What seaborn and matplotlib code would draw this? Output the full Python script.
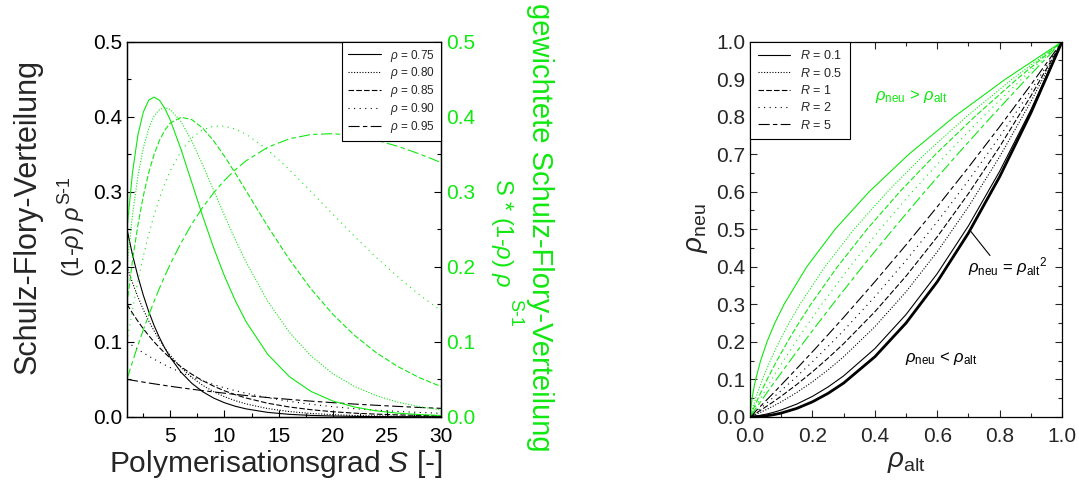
import matplotlib
matplotlib.use('Agg')
import matplotlib.pyplot as plt
import seaborn as sns
from matplotlib.ticker import MultipleLocator, FormatStrFormatter

# ---------------- data: left panel ----------------
S = [1, 1.5, 2, 2.5, 3, 3.5, 4, 4.5, 5, 6, 7, 8, 9, 10, 11, 12, 14, 16, 18, 20, 22, 24, 26, 28, 30]
rho_labels = ['0.75', '0.80', '0.85', '0.90', '0.95']

sf_075 = [0.25, 0.2165, 0.1875, 0.1624, 0.1406, 0.1218, 0.1055, 0.0913, 0.0791, 0.0593, 0.0445, 0.0334, 0.0250,
          0.0188, 0.0141, 0.0106, 0.0059, 0.0033, 0.0019, 0.0011, 0.0006, 0.0003, 0.0002, 0.0001, 0.0001]
sf_080 = [0.2, 0.1789, 0.16, 0.1431, 0.128, 0.1145, 0.1024, 0.0916, 0.0819, 0.0655, 0.0524, 0.0419, 0.0336,
          0.0268, 0.0215, 0.0172, 0.0110, 0.0070, 0.0045, 0.0029, 0.0018, 0.0012, 0.0008, 0.0005, 0.0003]
sf_085 = [0.15, 0.1383, 0.1275, 0.1175, 0.1084, 0.0999, 0.0921, 0.0849, 0.0783, 0.0666, 0.0566, 0.0481, 0.0409,
          0.0347, 0.0295, 0.0251, 0.0181, 0.0131, 0.0095, 0.0068, 0.0049, 0.0036, 0.0026, 0.0019, 0.0013]
sf_090 = [0.1, 0.0949, 0.09, 0.0854, 0.081, 0.0768, 0.0729, 0.0692, 0.0656, 0.0590, 0.0531, 0.0478, 0.0430,
          0.0387, 0.0349, 0.0314, 0.0254, 0.0206, 0.0167, 0.0135, 0.0109, 0.0089, 0.0072, 0.0058, 0.0047]
sf_095 = [0.05, 0.0487, 0.0475, 0.0463, 0.0451, 0.0440, 0.0429, 0.0418, 0.0407, 0.0387, 0.0368, 0.0349, 0.0332,
          0.0315, 0.0299, 0.0284, 0.0257, 0.0232, 0.0209, 0.0189, 0.0170, 0.0154, 0.0139, 0.0125, 0.0113]

w_075 = [0.25, 0.3248, 0.375, 0.4059, 0.4219, 0.4262, 0.4219, 0.4110, 0.3955, 0.3560, 0.3115, 0.2670, 0.2253,
         0.1877, 0.1549, 0.1267, 0.0832, 0.0535, 0.0338, 0.0211, 0.0131, 0.0080, 0.0049, 0.0030, 0.0018]
w_080 = [0.2, 0.2683, 0.32, 0.3578, 0.384, 0.4007, 0.4096, 0.4122, 0.4096, 0.3932, 0.3670, 0.3355, 0.3020,
         0.2684, 0.2362, 0.2062, 0.1539, 0.1126, 0.0811, 0.0576, 0.0406, 0.0283, 0.0196, 0.0135, 0.0093]
w_085 = [0.15, 0.2074, 0.255, 0.2939, 0.3251, 0.3497, 0.3685, 0.3822, 0.3915, 0.3993, 0.3960, 0.3847, 0.3679,
         0.3474, 0.3248, 0.3012, 0.2539, 0.2097, 0.1704, 0.1368, 0.1087, 0.0857, 0.0671, 0.0522, 0.0404]
w_090 = [0.1, 0.1423, 0.18, 0.2135, 0.243, 0.2690, 0.2916, 0.3112, 0.3281, 0.3543, 0.3720, 0.3826, 0.3874,
         0.3874, 0.3835, 0.3766, 0.3559, 0.3294, 0.3002, 0.2702, 0.2407, 0.2127, 0.1867, 0.1628, 0.1413]
w_095 = [0.05, 0.0731, 0.095, 0.1157, 0.1354, 0.1539, 0.1715, 0.1880, 0.2036, 0.2321, 0.2573, 0.2793, 0.2985,
         0.3151, 0.3293, 0.3413, 0.3593, 0.3706, 0.3763, 0.3774, 0.3746, 0.3688, 0.3606, 0.3505, 0.3389]

# ---------------- data: right panel ----------------
R_labels = ['0.1', '0.5', '1', '2', '5']
rho_alt = [0.0, 0.025, 0.05, 0.075, 0.1, 0.15, 0.2, 0.25, 0.3, 0.4, 0.5, 0.6, 0.7, 0.8, 0.9, 1.0]
neu_R01 = [0, 0.0028, 0.0068, 0.0119, 0.0182, 0.0341, 0.0545, 0.0795, 0.1091, 0.1818, 0.2727, 0.3818, 0.5091, 0.6545, 0.8182, 1.0]
neu_R05 = [0, 0.0088, 0.0183, 0.0288, 0.04, 0.065, 0.0933, 0.125, 0.16, 0.24, 0.3333, 0.44, 0.56, 0.6933, 0.84, 1.0]
neu_R1 = [0, 0.0128, 0.0263, 0.0403, 0.055, 0.0863, 0.12, 0.1563, 0.195, 0.28, 0.375, 0.48, 0.595, 0.72, 0.855, 1.0]
neu_R2 = [0, 0.0169, 0.0342, 0.0519, 0.07, 0.1075, 0.1467, 0.1875, 0.23, 0.32, 0.4167, 0.52, 0.63, 0.7467, 0.87, 1.0]
neu_R5 = [0, 0.0209, 0.0421, 0.0634, 0.085, 0.1288, 0.1733, 0.2188, 0.265, 0.36, 0.4583, 0.56, 0.665, 0.7733, 0.885, 1.0]
neu_square = [0, 0.0006, 0.0025, 0.0056, 0.01, 0.0225, 0.04, 0.0625, 0.09, 0.16, 0.25, 0.36, 0.49, 0.64, 0.81, 1.0]

# green family (rho_neu > rho_alt): rho_alt values read at the rho_neu grid
neu_grid = [0.0, 0.025, 0.05, 0.075, 0.1, 0.15, 0.2, 0.25, 0.3, 0.4, 0.5, 0.6, 0.7, 0.8, 0.9, 1.0]
g_alt_R01 = [0, 0.0028, 0.0068, 0.0119, 0.0182, 0.0341, 0.0545, 0.0795, 0.1091, 0.1818, 0.2727, 0.3818, 0.5091, 0.6545, 0.8182, 1.0]
g_alt_R05 = [0, 0.0088, 0.0183, 0.0288, 0.04, 0.065, 0.0933, 0.125, 0.16, 0.24, 0.3333, 0.44, 0.56, 0.6933, 0.84, 1.0]
g_alt_R1 = [0, 0.0128, 0.0263, 0.0403, 0.055, 0.0863, 0.12, 0.1563, 0.195, 0.28, 0.375, 0.48, 0.595, 0.72, 0.855, 1.0]
g_alt_R2 = [0, 0.0169, 0.0342, 0.0519, 0.07, 0.1075, 0.1467, 0.1875, 0.23, 0.32, 0.4167, 0.52, 0.63, 0.7467, 0.87, 1.0]
g_alt_R5 = [0, 0.0209, 0.0421, 0.0634, 0.085, 0.1288, 0.1733, 0.2188, 0.265, 0.36, 0.4583, 0.56, 0.665, 0.7733, 0.885, 1.0]

# ---------------- style ----------------
sns.set_style('ticks')
plt.rcParams['font.family'] = ['Liberation Sans', 'DejaVu Sans']
plt.rcParams['mathtext.fontset'] = 'custom'
plt.rcParams['mathtext.rm'] = 'Liberation Sans'
plt.rcParams['mathtext.it'] = 'Liberation Sans:italic'
plt.rcParams['mathtext.bf'] = 'Liberation Sans:bold'

GREEN = '#10e810'
styles = ['-', (0, (1, 1.5)), (0, (5, 2)), (0, (1, 4)), (0, (10, 3, 4, 3))]
LW = 0.8

fig = plt.figure(figsize=(10.79, 4.83), dpi=100)
ax = fig.add_axes([0.1177, 0.1370, 0.2910, 0.7767])
ax2 = ax.twinx()
axR = fig.add_axes([0.6951, 0.1370, 0.2892, 0.7767])

# ---------------- left panel ----------------
blacks = [sf_075, sf_080, sf_085, sf_090, sf_095]
greens = [w_075, w_080, w_085, w_090, w_095]
handles = []
for vals, ls, lab in zip(blacks, styles, rho_labels):
    sns.lineplot(x=S, y=vals, ax=ax, color='k', lw=LW, linestyle=ls, sort=False, legend=False)
    handles.append(ax.get_lines()[-1])
    handles[-1].set_label(r'$\rho$ = ' + lab)
for vals, ls in zip(greens, styles):
    sns.lineplot(x=S, y=vals, ax=ax2, color=GREEN, lw=LW, linestyle=ls, sort=False, legend=False)
if ax.get_legend() is not None:
    ax.get_legend().remove()

ax.set_xlim(1, 30)
ax.set_ylim(0, 0.5)
ax2.set_ylim(0, 0.5)
ax.xaxis.set_major_locator(MultipleLocator(5))
ax.xaxis.set_minor_locator(MultipleLocator(2.5))
ax.yaxis.set_major_locator(MultipleLocator(0.1))
ax.yaxis.set_minor_locator(MultipleLocator(0.05))
ax2.yaxis.set_major_locator(MultipleLocator(0.1))
ax2.yaxis.set_minor_locator(MultipleLocator(0.05))
ax.yaxis.set_major_formatter(FormatStrFormatter('%.1f'))
ax2.yaxis.set_major_formatter(FormatStrFormatter('%.1f'))
ax.tick_params(which='both', direction='in', right=False, top=False, labelsize=15, colors='k', width=0.8)
ax.tick_params(which='major', length=5)
ax.tick_params(which='minor', length=3)
ax.tick_params(axis='x', which='major', pad=7)
ax2.tick_params(which='both', direction='in', labelsize=15, color='k', labelcolor=GREEN, width=0.8)
ax2.tick_params(which='major', length=5)
ax2.tick_params(which='minor', length=3)
ax.set_xlabel('')
ax.set_ylabel('')
ax2.set_ylabel('')
for a in (ax, ax2):
    for sp in a.spines.values():
        sp.set_color('k')
        sp.set_linewidth(0.9)

leg = ax2.legend(handles=handles, loc='upper right', borderaxespad=0, fontsize=8.5, frameon=True,
                 fancybox=False, edgecolor='k', handlelength=2.8, labelspacing=0.15, borderpad=0.5)
leg.get_frame().set_linewidth(0.8)
leg.get_frame().set_alpha(1)

# left y label (two lines) and x label
fig.text(0.0255, 0.551, 'Schulz-Flory-Verteilung', rotation=90, ha='center', va='center', fontsize=22)
fig.text(0.0675, 0.500, r'(1-$\rho$) $\rho$', rotation=90, ha='center', va='center', fontsize=17)
fig.text(0.0600, 0.607, 'S-1', rotation=90, ha='center', va='center', fontsize=13)
fig.text(0.2558, 0.0228, r'Polymerisationsgrad $S$ [-]', ha='center', va='baseline', fontsize=21.5)

# right (green) y label
fig.text(0.5005, 0.530, 'gewichtete Schulz-Flory-Verteilung', rotation=270, ha='center', va='center',
         fontsize=21, color=GREEN)
fig.text(0.4655, 0.517, r'S $*$ (1-$\rho$) $\rho$', rotation=270, ha='center', va='center',
         fontsize=17, color=GREEN)
fig.text(0.4770, 0.352, 'S-1', rotation=270, ha='center', va='center', fontsize=13, color=GREEN)

# ---------------- right panel ----------------
rblacks = [neu_R01, neu_R05, neu_R1, neu_R2, neu_R5]
rgreens = [g_alt_R01, g_alt_R05, g_alt_R1, g_alt_R2, g_alt_R5]
rhandles = []
for vals, ls, lab in zip(rblacks, styles, R_labels):
    sns.lineplot(x=rho_alt, y=vals, ax=axR, color='k', lw=LW, linestyle=ls, sort=False, legend=False)
    rhandles.append(axR.get_lines()[-1])
    rhandles[-1].set_label(r'$R$ = ' + lab)
for xs, ls in zip(rgreens, styles):
    sns.lineplot(x=xs, y=neu_grid, ax=axR, color=GREEN, lw=LW, linestyle=ls, sort=False, legend=False)
sns.lineplot(x=rho_alt, y=neu_square, ax=axR, color='k', lw=2.0, sort=False, legend=False)

axR.set_xlim(0, 1)
axR.set_ylim(0, 1)
axR.xaxis.set_major_locator(MultipleLocator(0.2))
axR.xaxis.set_minor_locator(MultipleLocator(0.1))
axR.yaxis.set_major_locator(MultipleLocator(0.1))
axR.yaxis.set_minor_locator(MultipleLocator(0.05))
axR.xaxis.set_major_formatter(FormatStrFormatter('%.1f'))
axR.yaxis.set_major_formatter(FormatStrFormatter('%.1f'))
axR.tick_params(which='both', direction='in', top=True, right=True, labelsize=15, width=0.8)
axR.tick_params(which='major', length=5)
axR.tick_params(which='minor', length=3)
axR.tick_params(axis='x', which='major', pad=7)
axR.set_xlabel('')
axR.set_ylabel('')
for sp in axR.spines.values():
    sp.set_color('k')
    sp.set_linewidth(0.9)

legR = axR.legend(handles=rhandles, loc='upper left', borderaxespad=0, fontsize=9, frameon=True,
                  fancybox=False, edgecolor='k', handlelength=2.6, labelspacing=0.35, borderpad=0.6)
legR.get_frame().set_linewidth(0.8)
legR.get_frame().set_alpha(1)

axR.text(0.40, 0.853, r'$\rho_{\mathrm{neu}}$ > $\rho_{\mathrm{alt}}$', color=GREEN, fontsize=12,
         ha='left', va='center')
axR.text(0.497, 0.155, r'$\rho_{\mathrm{neu}}$ < $\rho_{\mathrm{alt}}$', color='k', fontsize=12,
         ha='left', va='center')
axR.text(0.699, 0.40, r'$\rho_{\mathrm{neu}}$ = $\rho_{\mathrm{alt}}{}^{2}$', color='k', fontsize=12,
         ha='left', va='center')
axR.annotate('', xy=(0.705, 0.497), xytext=(0.769, 0.43),
             arrowprops=dict(arrowstyle='-', color='k', lw=0.8, shrinkA=0, shrinkB=0))

fig.text(0.646, 0.528, r'$\rho_{\mathrm{neu}}$', rotation=90, ha='center', va='center', fontsize=20)
fig.text(0.8397, 0.0435, r'$\rho_{\mathrm{alt}}$', ha='center', va='center', fontsize=20)

fig.savefig('out.png', dpi=100)
